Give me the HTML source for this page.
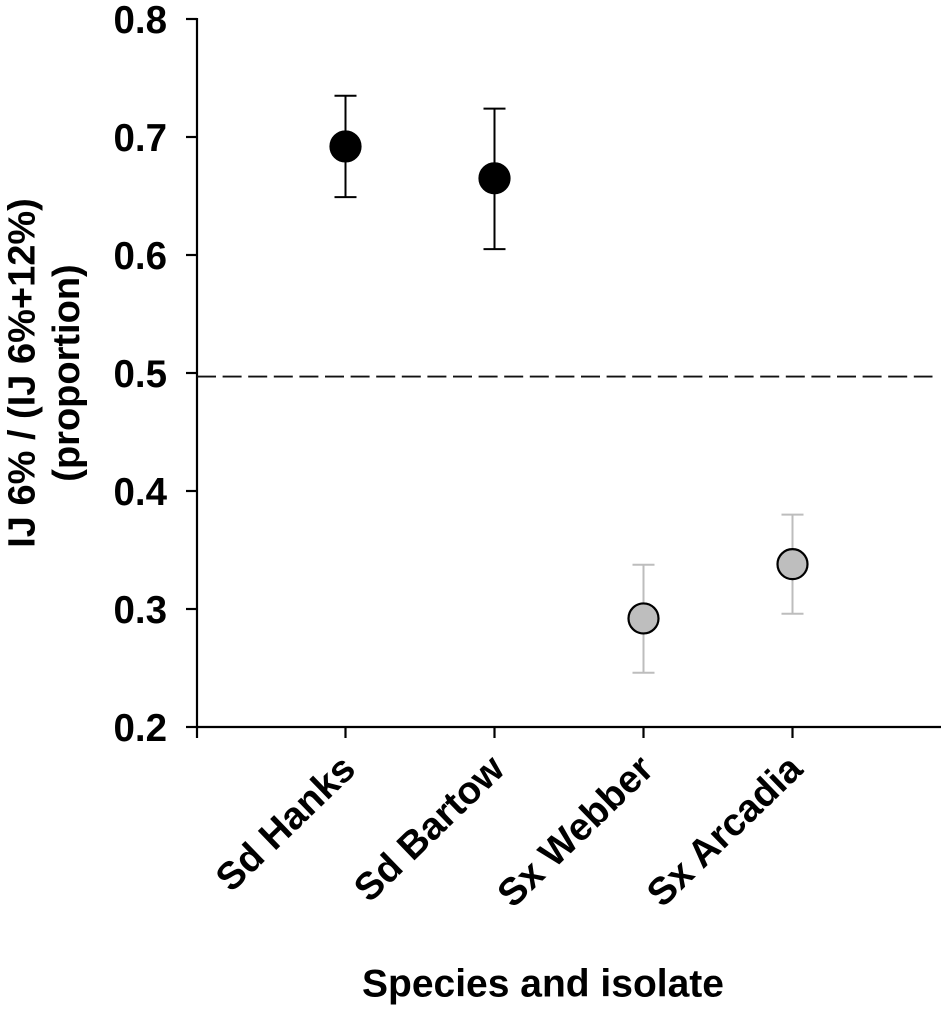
<!DOCTYPE html>
<html>
<head>
<meta charset="utf-8">
<style>
html,body{margin:0;padding:0;background:#fff;width:945px;height:1010px;overflow:hidden}
svg{display:block}
text{font-family:"Liberation Sans",Arial,sans-serif;font-weight:bold;fill:#000}
</style>
</head>
<body>
<svg id="chart" width="945" height="1010" viewBox="0 0 945 1010" xmlns="http://www.w3.org/2000/svg"></svg>
<script>
const categories = ["Sd Hanks", "Sd Bartow", "Sx Webber", "Sx Arcadia"];
const means = [0.692, 0.665, 0.292, 0.338];
const upperBounds = [0.735, 0.724, 0.3375, 0.380];
const lowerBounds = [0.649, 0.605, 0.246, 0.296];
const groups = ["Sd", "Sd", "Sx", "Sx"];
const yTicks = [0.2, 0.3, 0.4, 0.5, 0.6, 0.7, 0.8];
const referenceValue = 0.497;

const svg = document.getElementById('chart');
const NS = 'http://www.w3.org/2000/svg';
const yScale = v => 727 - (v - 0.2) / 0.6 * 708;
const xScale = i => 345.5 + i * 149;
const axisX = 197;
const plotRight = 941;
const axisWidth = 2.2;
const tickLen = 11;
const fontSize = 38.5;

function add(tag, attrs, parent) {
  const el = document.createElementNS(NS, tag);
  for (const k in attrs) el.setAttribute(k, attrs[k]);
  (parent || svg).appendChild(el);
  return el;
}

let el;
el = add('line', {x1: axisX, y1: yScale(0.8) - 1, x2: axisX, y2: yScale(0.2) + tickLen, stroke: '#000', 'stroke-width': axisWidth});


el = add('line', {x1: axisX, y1: yScale(0.2), x2: plotRight, y2: yScale(0.2), stroke: '#000', 'stroke-width': axisWidth});



yTicks.forEach(t => {
  const tick = add('line', {x1: axisX - tickLen, y1: yScale(t), x2: axisX, y2: yScale(t), stroke: '#000', 'stroke-width': axisWidth});
  
  
  const label = add('text', {x: 167, y: yScale(t) + 14, 'text-anchor': 'end', 'font-size': fontSize});
  
  
  label.textContent = t.toFixed(1);
});

el = add('line', {x1: axisX, y1: yScale(referenceValue), x2: 932.5, y2: yScale(referenceValue), stroke: '#111', 'stroke-width': 1.8, 'stroke-dasharray': '19 6.6'});



categories.forEach((c, i) => {
  const x = xScale(i);
  const tick = add('line', {x1: x, y1: yScale(0.2), x2: x, y2: yScale(0.2) + tickLen, stroke: '#000', 'stroke-width': axisWidth});
  
  

  const errColor = groups[i] === 'Sd' ? '#000' : '#bdbdbd';
  const fill = groups[i] === 'Sd' ? '#000' : '#bebebe';
  const capW = 11;
  const bar = add('line', {x1: x, y1: yScale(upperBounds[i]), x2: x, y2: yScale(lowerBounds[i]), stroke: errColor, 'stroke-width': 2});
  
  
  const capU = add('line', {x1: x - capW, y1: yScale(upperBounds[i]), x2: x + capW, y2: yScale(upperBounds[i]), stroke: errColor, 'stroke-width': 2});
  
  
  const capL = add('line', {x1: x - capW, y1: yScale(lowerBounds[i]), x2: x + capW, y2: yScale(lowerBounds[i]), stroke: errColor, 'stroke-width': 2});
  
  
  const pt = add('circle', {cx: x, cy: yScale(means[i]), r: 15, fill: fill, stroke: '#000', 'stroke-width': 2.2});
  
  

  const lx = x + 12, ly = 771.5;
  const label = add('text', {x: lx, y: ly, 'text-anchor': 'end', 'font-size': fontSize, transform: `rotate(-44 ${lx} ${ly})`});
  
  
  label.textContent = c;
});

el = add('text', {x: 543, y: 996.5, 'text-anchor': 'middle', 'font-size': 39});


el.textContent = 'Species and isolate';

el = add('text', {x: 0, y: 0, 'text-anchor': 'middle', 'font-size': 38, transform: 'translate(34.5 373) rotate(-90)'});


el.textContent = 'IJ 6% / (IJ 6%+12%)';

el = add('text', {x: 0, y: 0, 'text-anchor': 'middle', 'font-size': 38, transform: 'translate(79 373) rotate(-90)'});


el.textContent = '(proportion)';
</script>
</body>
</html>
